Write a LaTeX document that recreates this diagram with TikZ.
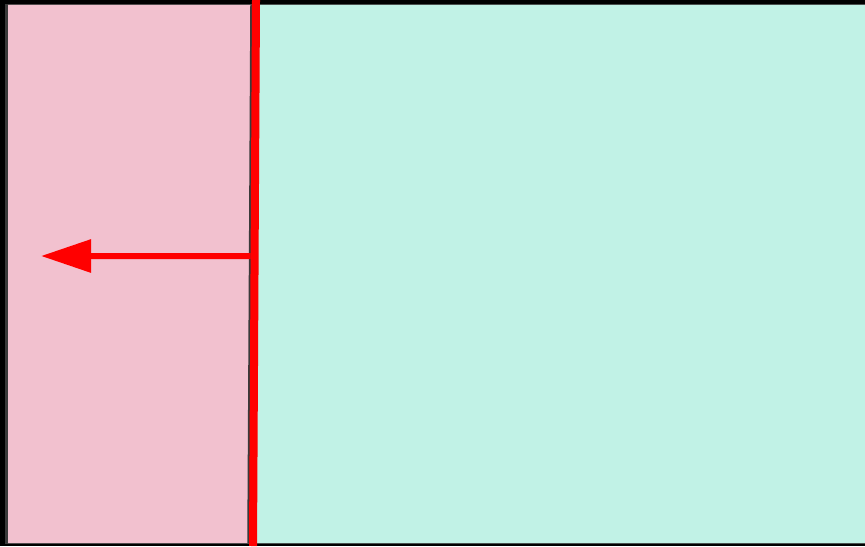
\documentclass[tikz,border=0pt]{standalone}
\usepackage{xcolor}
\usepackage{tikz}
\usetikzlibrary{arrows.meta,calc}
\definecolor{frame}{HTML}{000000}
\definecolor{rim}{HTML}{3a3a3a}
\definecolor{pinkzone}{HTML}{F2C1CF}
\definecolor{mintzone}{HTML}{C1F2E6}
\definecolor{wallred}{HTML}{FF0000}

\begin{document}
\begin{tikzpicture}[
    x=0.01cm, y=-0.01cm,
    zone/.style={draw=none},
    wall/.style={line width=0.08cm, color=wallred},
    edge/.style={line width=0.025cm, color=rim},
    push/.style={-{Triangle[length=0.5cm,width=0.32cm]}, line width=0.06cm, color=wallred},
]
\useasboundingbox (0,0) rectangle (865,546);

% frame and the two zones
\fill[frame] (0,0) rectangle (865,546);
\fill[rim] (5,4) rectangle (865,544);
\coordinate (walltop) at (256,0);
\coordinate (wallbot) at (253,546);
\fill[zone,pinkzone] (8,5) -- (256,5) -- (252.6,543) -- (8,543) -- cycle;
\fill[zone,mintzone] (256,5) -- (865,5) -- (865,543) -- (252.6,543) -- cycle;

% dividing wall
\draw[edge] ($(walltop)+(-4.5,5)$) -- ($(wallbot)+(-4.5,-3)$);
\draw[wall] (walltop) -- (wallbot);

% arrow out of the wall
\coordinate (from) at ($(walltop)!0.469!(wallbot)+(-4,0)$);
\coordinate (to) at (41,256);
\draw[push] (from) -- (to);
\end{tikzpicture}
\end{document}
